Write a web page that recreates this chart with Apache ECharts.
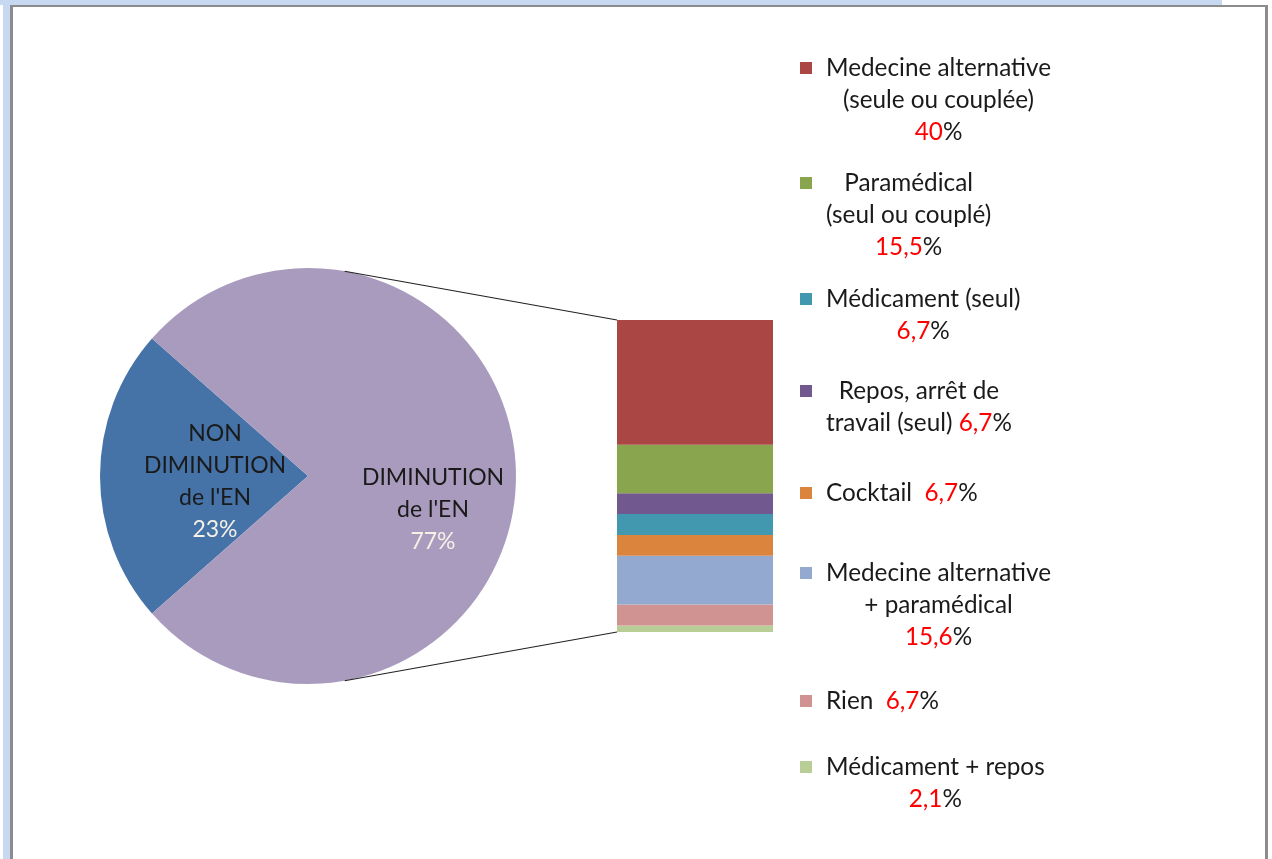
<!DOCTYPE html>
<html>
<head>
<meta charset="utf-8">
<title>Diminution de l'EN</title>
<script src="https://cdn.jsdelivr.net/npm/echarts@6/dist/echarts.min.js"></script>
<style>
html, body { margin: 0; padding: 0; background: #fff; }
#stripTop { position: absolute; left: 0; top: 0; width: 1222px; height: 5px; background: #c6d9f1; }
#stripLeft { position: absolute; left: 3px; top: 0; width: 7px; height: 859px; background: #c6d9f1; }
#frame { position: absolute; left: 10px; top: 5px; width: 1252px; height: 854px;
         border-top: 2px solid #8c8c8c; border-left: 3px solid #8c8c8c; border-right: 3px solid #8c8c8c; background: #fff; }
#chart { width: 1252px; height: 852px; }
</style>
</head>
<body>
<div id="stripTop"></div>
<div id="stripLeft"></div>
<div id="frame"><div id="chart"></div></div>
<script>
// pie: part of the EN that went down or not
var pieNames = ["NON DIMINUTION de l'EN", "DIMINUTION de l'EN"];
var pieLabelText = ["NON\nDIMINUTION\nde l'EN", "DIMINUTION\nde l'EN"];
var pieValues = [23, 77];

// bar: what was done, legend order
var barNames = [
    'Medecine alternative (seule ou couplée)',
    'Paramédical (seul ou couplé)',
    'Médicament (seul)',
    'Repos, arrêt de travail (seul)',
    'Cocktail',
    'Medecine alternative + paramédical',
    'Rien',
    'Médicament + repos'
];
var barLegendText = [
    'Medecine alternative\n(seule ou couplée)\n{v}%',
    'Paramédical\n(seul ou couplé)\n{v}%',
    'Médicament (seul)\n{v}%',
    'Repos, arrêt de\ntravail (seul) {v}%',
    'Cocktail  {v}%',
    'Medecine alternative\n+ paramédical\n{v}%',
    'Rien  {v}%',
    'Médicament + repos\n{v}%'
];
var barValues = [40, 15.5, 6.7, 6.7, 6.7, 15.6, 6.7, 2.1];
// stacking, bottom of the bar first
var stackOrder = [7, 6, 5, 4, 2, 3, 1, 0];

// styles / layout
var pieColors = ['#4572A7', '#A99BBD'];
var barColors = ['#AA4643', '#89A54E', '#4198AF', '#71588F', '#DB843D', '#93A9CF', '#D19392', '#B9CD96'];
var pieLabelPad = [[12, 0, 0, 28], [68, 0, 0, 36]];
var legendFirstLine = [61, 176, 292, 384, 486, 566, 694, 760];
var FONT = 'Lato';
var FS_LEGEND = 24.3;
var FS_PIE = 23;
var LINE = 32;
var TXT = '#1a1a1a';

var chart = echarts.init(document.getElementById('chart'));

var pieTotal = pieValues.reduce(function (a, b) { return a + b; }, 0);
var barTotal = barValues.reduce(function (a, b) { return a + b; }, 0);

function fmtNum(v) {
    return String(Math.round(v * 10) / 10).replace('.', ',');
}

function legendRich(i) {
    var v = fmtNum(barValues[i]);
    return barLegendText[i].split('\n').map(function (line) {
        var parts = line.split('{v}');
        var out = '';
        parts.forEach(function (p, k) {
            if (p) out += '{t|' + p + '}';
            if (k < parts.length - 1) out += '{r|' + v + '}';
        });
        return out;
    }).join('\n');
}

var richBase = { fontFamily: FONT, fontSize: FS_LEGEND, lineHeight: LINE, align: 'center' };

var legends = barNames.map(function (name, i) {
    var n = barLegendText[i].split('\n').length;
    return {
        data: [name],
        orient: 'vertical',
        left: 787,
        top: legendFirstLine[i] - (2 * n - 1) * LINE / 2,
        padding: 0,
        icon: 'rect',
        itemWidth: 12,
        itemHeight: 12,
        selectedMode: false,
        formatter: function () { return legendRich(i); },
        textStyle: {
            fontFamily: FONT, fontSize: FS_LEGEND, lineHeight: LINE, color: TXT,
            padding: [(n - 1) * LINE, 0, 0, 9],
            rich: {
                t: Object.assign({ color: TXT }, richBase),
                r: Object.assign({ color: '#ff0000' }, richBase)
            }
        }
    };
});

var barSeries = stackOrder.map(function (i) {
    return {
        type: 'bar',
        name: barNames[i],
        stack: 'total',
        data: [barValues[i]],
        barWidth: '100%',
        itemStyle: { color: barColors[i] },
        silent: true
    };
});

var option = {
    animation: false,
    legend: legends,
    grid: { left: 604, top: 313, width: 156, height: 312 },
    xAxis: { type: 'category', data: ['autre'], show: false },
    yAxis: { type: 'value', min: 0, max: barTotal, show: false },
    series: [{
        type: 'pie',
        center: [295, 469],
        radius: 208,
        clockwise: true,
        startAngle: 180 + pieValues[0] / pieTotal * 180,
        silent: true,
        labelLine: { show: false },
        label: {
            position: 'inside',
            formatter: function (p) {
                return pieLabelText[p.dataIndex].split('\n').map(function (l) {
                    return '{n|' + l + '}';
                }).join('\n') + '\n{p|' + Math.round(p.percent) + '%}';
            },
            rich: {
                n: { fontFamily: FONT, fontSize: FS_PIE, lineHeight: LINE, color: TXT },
                p: { fontFamily: FONT, fontSize: FS_PIE, lineHeight: LINE, color: '#f4f1e6' }
            }
        },
        data: pieNames.map(function (n, i) {
            return {
                name: n,
                value: pieValues[i],
                itemStyle: { color: pieColors[i] },
                label: { padding: pieLabelPad[i] }
            };
        })
    }].concat(barSeries)
};

chart.setOption(option);

// connector lines: tangent from the pie to the corners of the bar
var pieLayout = chart.getModel().getSeriesByIndex(0).getData().getItemLayout(0);
var cx = pieLayout.cx, cy = pieLayout.cy, R = pieLayout.r;
var barLayout = chart.getModel().getSeriesByIndex(1).getData().getItemLayout(0);
var xLeft = barLayout.x;
var yTop = chart.convertToPixel({ yAxisIndex: 0 }, barTotal);
var yBottom = chart.convertToPixel({ yAxisIndex: 0 }, 0);

function tangentPoint(px, py, sign) {
    var dx = px - cx, dy = py - cy, d = Math.hypot(dx, dy);
    var a = Math.atan2(dy, dx) + sign * Math.acos(R / d);
    return [cx + R * Math.cos(a), cy + R * Math.sin(a)];
}

var tTop = tangentPoint(xLeft, yTop, -1);
var tBottom = tangentPoint(xLeft, yBottom, 1);

chart.setOption({
    graphic: [
        { type: 'line', z: 10, silent: true, shape: { x1: tTop[0], y1: tTop[1], x2: xLeft, y2: yTop }, style: { stroke: '#222', lineWidth: 1.2 } },
        { type: 'line', z: 10, silent: true, shape: { x1: tBottom[0], y1: tBottom[1], x2: xLeft, y2: yBottom }, style: { stroke: '#222', lineWidth: 1.2 } }
    ]
});
</script>
</body>
</html>
